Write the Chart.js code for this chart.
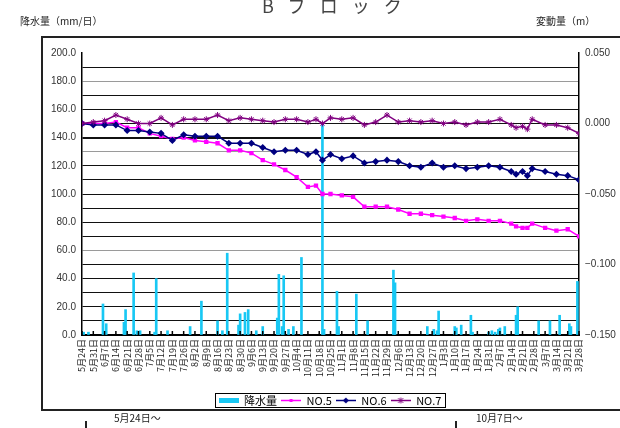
<!DOCTYPE html>
<html>
<head>
<meta charset="utf-8">
<script src="https://cdn.jsdelivr.net/npm/chart.js@4.4.0/dist/chart.umd.min.js"></script>
<style>
  html, body { margin: 0; padding: 0; background: #fff; }
  #wrap { position: relative; width: 620px; height: 428px; overflow: hidden;
          font-family: "Noto Sans CJK JP", "Liberation Sans", sans-serif; }
  #c { position: absolute; left: 0; top: 0; }
  .t { position: absolute; white-space: nowrap; color: #222; }
  .ln { position: absolute; background: #222; }
</style>
</head>
<body>
<div id="wrap">
  <canvas id="c" width="620" height="428"></canvas>
  <div class="t" style="left:262px;top:-4px;font-size:18px;line-height:18px;letter-spacing:14px;color:#444;">Bブロック</div>
  <div class="t" style="left:20px;top:15px;font-size:10px;line-height:12px;">降水量（mm/日）</div>
  <div class="t" style="left:536px;top:15px;font-size:10px;line-height:12px;">変動量（m）</div>
  <div class="ln" style="left:41px;top:36px;width:579px;height:2px;"></div>
  <div class="ln" style="left:41px;top:36px;width:2px;height:374px;"></div>
  <div class="ln" style="left:41px;top:409px;width:579px;height:1.5px;"></div>
  <div class="t" style="left:114px;top:412px;font-size:10px;line-height:12px;">5月24日〜</div>
  <div class="t" style="left:476px;top:412px;font-size:10px;line-height:12px;">10月7日〜</div>
  <div class="ln" style="left:85px;top:421px;width:1.5px;height:8px;"></div>
  <div class="ln" style="left:455px;top:421px;width:1.5px;height:8px;"></div>
</div>
<script>
// x axis: days counted from 5/24, weekly tick labels
const dateLabels = ['5月24日','5月31日','6月7日','6月14日','6月21日','6月28日','7月5日','7月12日','7月19日','7月26日',
  '8月2日','8月9日','8月16日','8月23日','8月30日','9月6日','9月13日','9月20日','9月27日','10月4日','10月11日',
  '10月18日','10月25日','11月1日','11月8日','11月15日','11月22日','11月29日','12月6日','12月13日','12月20日',
  '12月27日','1月3日','1月10日','1月17日','1月24日','1月31日','2月7日','2月14日','2月21日','2月28日',
  '3月7日','3月14日','3月21日','3月28日'];

// daily rainfall (mm/day), only the rainy days
const rainDays = [1, 4, 13, 15, 26, 27, 32, 34, 36, 45, 46, 53, 67, 74, 84, 87, 90, 97, 98, 101, 103, 108, 112,
  121, 122, 124, 125, 128, 131, 136, 149, 150, 158, 159, 170, 177, 193, 194, 214, 218, 220, 221, 231, 232, 235,
  241, 242, 252, 254, 256, 258, 259, 262, 269, 270, 283, 290, 296, 302, 303, 307];
const rainMm = [2, 2, 22, 8, 9, 18, 44, 3, 3, 2, 40, 3, 6, 24, 10, 3, 58, 7, 15, 16, 18, 3, 6,
  12, 43, 6, 42, 4, 6, 55, 150, 4, 31, 6, 29, 10, 46, 37, 6, 4, 3, 17, 6, 5, 7,
  14, 2, 2, 3, 2, 4, 5, 6, 14, 20, 10, 10, 14, 8, 6, 38];

// displacement survey days and values (m)
const obsDays = [0, 7, 14, 21, 28, 35, 42, 49, 56, 63, 70, 77, 84, 91, 98, 105, 112, 119, 126, 133, 140, 145, 149,
  154, 161, 168, 175, 182, 189, 196, 203, 210, 217, 224, 231, 238, 245, 252, 259, 266, 269, 273, 276, 279,
  287, 294, 301, 308];
const no5 = [0.000, 0.000, 0.000, 0.001, -0.003, -0.003, -0.007, -0.009, -0.011, -0.010, -0.012, -0.013, -0.014,
  -0.019, -0.019, -0.021, -0.026, -0.029, -0.033, -0.038, -0.045, -0.044, -0.050, -0.050, -0.051, -0.052, -0.059,
  -0.059, -0.059, -0.061, -0.064, -0.064, -0.065, -0.066, -0.067, -0.069, -0.068, -0.069, -0.069, -0.071, -0.073,
  -0.074, -0.074, -0.071, -0.074, -0.076, -0.075, -0.080];
const no6 = [0.000, -0.001, -0.001, -0.001, -0.005, -0.005, -0.006, -0.007, -0.012, -0.008, -0.009, -0.009, -0.009,
  -0.014, -0.014, -0.014, -0.017, -0.020, -0.019, -0.019, -0.022, -0.020, -0.026, -0.022, -0.025, -0.023, -0.028,
  -0.027, -0.026, -0.027, -0.030, -0.031, -0.028, -0.031, -0.030, -0.032, -0.031, -0.030, -0.031, -0.034, -0.036,
  -0.034, -0.037, -0.032, -0.034, -0.036, -0.037, -0.040];
const no7 = [0.000, 0.001, 0.002, 0.006, 0.003, 0.000, 0.000, 0.004, -0.001, 0.003, 0.003, 0.003, 0.006, 0.002,
  0.004, 0.003, 0.002, 0.001, 0.003, 0.003, 0.001, 0.003, 0.000, 0.004, 0.003, 0.004, -0.001, 0.001, 0.006, 0.001,
  0.002, 0.001, 0.002, 0.000, 0.001, -0.001, 0.001, 0.001, 0.003, -0.001, -0.003, -0.002, -0.004, 0.003, -0.001,
  -0.001, -0.003, -0.007];

const FONT = '"Noto Sans CJK JP", "Liberation Sans", sans-serif';
const RAIN = '#18c8f4', C5 = '#ff00ff', C6 = '#000080', C7 = '#800080';
const grayGrid = [180, 130, 60];

function icon(color, kind) {
  const cv = document.createElement('canvas');
  cv.width = 20; cv.height = 7;
  const g = cv.getContext('2d');
  g.fillStyle = color; g.strokeStyle = color;
  if (kind === 'box') { g.fillRect(0, 1, 20, 5); return cv; }
  g.lineWidth = 1.5;
  g.beginPath(); g.moveTo(0, 3.5); g.lineTo(20, 3.5); g.stroke();
  if (kind === 'rect') g.fillRect(8.5, 2, 3, 3);
  if (kind === 'rectRot') { g.beginPath(); g.moveTo(10, 0.5); g.lineTo(13, 3.5); g.lineTo(10, 6.5); g.lineTo(7, 3.5); g.fill(); }
  if (kind === 'star') { g.lineWidth = 1; g.beginPath(); g.moveTo(7.5, 1); g.lineTo(12.5, 6); g.moveTo(12.5, 1); g.lineTo(7.5, 6); g.moveTo(10, 0.5); g.lineTo(10, 6.5); g.stroke(); }
  return cv;
}
const icons = [icon(RAIN, 'box'), icon(C5, 'rect'), icon(C6, 'rectRot'), icon(C7, 'star')];

const pts = (xs, ys) => xs.map((d, i) => ({ x: d, y: ys[i] }));

const framePlugin = {
  id: 'frame',
  afterDraw(chart) {
    const c = chart.ctx;
    const hb = chart.legend.legendHitBoxes;
    if (hb && hb.length) {
      const l = Math.min(...hb.map(h => h.left)) - 4;
      const r = Math.max(...hb.map(h => h.left + h.width)) + 3;
      const t = Math.min(...hb.map(h => h.top)) - 2;
      const b = Math.max(...hb.map(h => h.top + h.height)) + 1;
      c.save(); c.strokeStyle = '#000'; c.lineWidth = 1;
      c.strokeRect(Math.round(l) + 0.5, Math.round(t) + 0.5, Math.round(r - l), Math.round(b - t));
      c.restore();
    }
    // short tick marks pointing into the plot
    const xs = chart.scales.x, a = chart.chartArea;
    c.save(); c.strokeStyle = '#000'; c.lineWidth = 1.5;
    xs.ticks.forEach((tk, i) => {
      const px = xs.getPixelForTick(i);
      c.beginPath(); c.moveTo(px, a.bottom); c.lineTo(px, a.bottom - 4); c.stroke();
    });
    c.restore();
  }
};

new Chart(document.getElementById('c'), {
  type: 'bar',
  data: {
    datasets: [
      { type: 'bar', label: '降水量', data: pts(rainDays, rainMm), backgroundColor: RAIN,
        barThickness: 2, yAxisID: 'y', order: 4 },
      { type: 'line', label: 'NO.5', data: pts(obsDays, no5), borderColor: C5, backgroundColor: C5,
        borderWidth: 1.5, pointStyle: 'rect', pointRadius: 2, yAxisID: 'y1', order: 3 },
      { type: 'line', label: 'NO.6', data: pts(obsDays, no6), borderColor: C6, backgroundColor: C6,
        borderWidth: 1.5, pointStyle: 'rectRot', pointRadius: 2.5, yAxisID: 'y1', order: 2 },
      { type: 'line', label: 'NO.7', data: pts(obsDays, no7), borderColor: C7, backgroundColor: C7,
        borderWidth: 1.5, pointStyle: 'star', pointRadius: 3, pointBorderWidth: 1, yAxisID: 'y1', order: 1 }
    ]
  },
  options: {
    responsive: false,
    animation: false,
    events: [],
    layout: { padding: { left: 40, right: 0, top: 53, bottom: 12 } },
    scales: {
      x: {
        type: 'linear', min: 0, max: 308, offset: false,
        ticks: { stepSize: 7, autoSkip: false, minRotation: 90, maxRotation: 90, padding: 4,
                 callback: v => dateLabels[Math.round(v / 7)] || '', color: '#222',
                 font: { size: 9, family: FONT } },
        grid: { drawOnChartArea: false, drawTicks: false, offset: false },
        border: { color: '#000', width: 2 },
        afterFit: s => { s.height = 56; }
      },
      y: {
        position: 'left', min: 0, max: 200,
        ticks: { stepSize: 10, autoSkip: false, padding: 6, color: '#333',
                 callback: v => (v % 20 === 0 ? v.toFixed(1) : ''),
                 font: { size: 10, family: '"Liberation Sans", sans-serif' } },
        grid: { drawTicks: false,
                color: c => (c.tick.value === 200 || c.tick.value === 0) ? 'rgba(0,0,0,0)'
                  : grayGrid.includes(c.tick.value) ? '#9a9a9a' : '#111',
                lineWidth: c => (c.tick.value === 140 ? 2 : 1) },
        border: { color: '#000', width: 1.5 },
        afterFit: s => { s.width = 42; }
      },
      y1: {
        position: 'right', min: -0.15, max: 0.05,
        ticks: { stepSize: 0.05, padding: 6, color: '#333',
                 callback: v => v.toFixed(3).replace('-', '−'),
                 font: { size: 10, family: '"Liberation Sans", sans-serif' } },
        grid: { drawOnChartArea: false, drawTicks: false },
        border: { color: '#000', width: 1.5 },
        afterFit: s => { s.width = 41; }
      }
    },
    plugins: {
      tooltip: { enabled: false },
      legend: {
        position: 'bottom',
        labels: {
          usePointStyle: true, pointStyleWidth: 20, padding: 4, color: '#000',
          font: { size: 11, family: FONT },
          generateLabels: chart => chart.data.datasets.map((ds, i) => ({
            text: ds.label, pointStyle: icons[i], fillStyle: ds.backgroundColor,
            strokeStyle: ds.borderColor, lineWidth: 0, hidden: false, datasetIndex: i, fontColor: '#000'
          }))
        }
      }
    }
  },
  plugins: [framePlugin]
});
</script>
</body>
</html>
